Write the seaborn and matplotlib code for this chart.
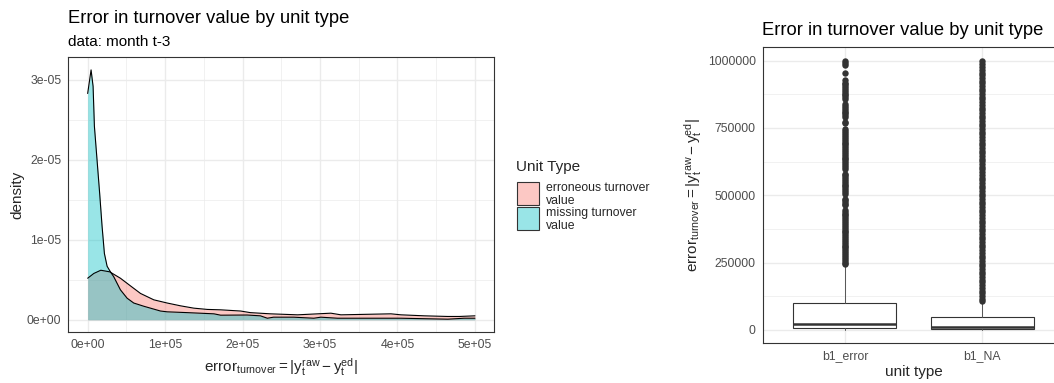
import matplotlib
matplotlib.use("Agg")
import matplotlib.pyplot as plt
from matplotlib.patches import Rectangle
import pandas as pd
import seaborn as sns

# ---------------------------------------------------------------------------
# data
# ---------------------------------------------------------------------------

# density curves: x in thousands, density in units of 1e-05
missing_x = [0, 4.4, 7, 8.7, 12.1, 15.5, 18.6, 21.6, 25.1, 29.4, 33.6, 42.3, 51, 59.5,
             72.4, 94, 102.7, 128.6, 163, 171.7, 206, 223, 232, 240, 266, 292, 301,
             322.6, 404.5, 465, 486, 500]
missing_d = [2.83, 3.125, 2.92, 2.42, 2.0, 1.58, 1.17, 0.83, 0.67, 0.60, 0.54, 0.375, 0.27, 0.21,
             0.17, 0.11, 0.10, 0.09, 0.075, 0.058, 0.06, 0.05, 0.02, 0.033, 0.033, 0.02, 0.033,
             0.02, 0.02, 0.008, 0.02, 0.02]

erroneous_x = [0, 8, 17, 28.5, 42.3, 55.2, 68.2, 85.4, 102.7, 119.9, 137, 154.5, 171.7,
               197.5, 210, 236, 271, 314, 327, 391.6, 404.5, 434.7, 465, 480, 500]
erroneous_d = [0.52, 0.58, 0.62, 0.60, 0.52, 0.425, 0.33, 0.25, 0.21, 0.175, 0.146, 0.13, 0.125,
               0.11, 0.09, 0.075, 0.0625, 0.083, 0.0625, 0.075, 0.0625, 0.05, 0.042, 0.042, 0.05]

unit_labels = ["erroneous turnover\nvalue", "missing turnover\nvalue"]
unit_colors = ["#F8766D", "#00BFC4"]

dens_xticks = [0, 100000, 200000, 300000, 400000, 500000]
dens_xticklabels = ["0e+00", "1e+05", "2e+05", "3e+05", "4e+05", "5e+05"]
dens_yticks = [0, 1e-05, 2e-05, 3e-05]
dens_yticklabels = ["0e+00", "1e-05", "2e-05", "3e-05"]

# boxplot summary (values in thousands)
box_units = ["b1_error", "b1_NA"]
box_q1 = [5, 1.5]
box_med = [21, 10]
box_q3 = [101.5, 45.9]
box_whislo = [0, 0]
box_whishi = [243, 103]

error_outliers = [243, 250, 257, 264, 271, 278, 285, 292, 299, 306, 313, 320, 327, 334, 341,
                  348, 355, 362, 369, 376, 383, 390, 397, 404, 411, 418, 425, 432, 439, 444,
                  462, 468, 475, 482, 486, 505, 512, 519, 526, 533, 540, 547, 554, 561, 568,
                  575, 580, 598, 605, 612, 619, 626, 633, 640, 647, 654, 661, 668, 675, 682,
                  689, 696, 703, 710, 717, 724, 731, 738, 745, 767, 771, 790, 797, 804, 811,
                  818, 825, 832, 839, 857, 864, 871, 878, 885, 892, 899, 906, 913, 918, 928,
                  953, 985, 993, 1000]
na_outliers = [106, 116, 126, 136, 146, 156, 166, 176, 186, 196, 206, 216, 226, 236, 246,
               256, 266, 276, 286, 296, 306, 316, 326, 336, 346, 356, 366, 376, 386, 396,
               406, 416, 426, 436, 446, 456, 466, 476, 486, 496, 506, 516, 526, 536, 546,
               556, 566, 576, 586, 596, 606, 616, 626, 636, 646, 656, 666, 676, 686, 696,
               706, 716, 726, 736, 746, 756, 766, 776, 786, 796, 806, 816, 826, 836, 846,
               856, 866, 876, 886, 896, 906, 916, 926, 936, 946, 956, 966, 976, 986, 1000]

box_yticks = [0, 250000, 500000, 750000, 1000000]
box_yticklabels = ["0", "250000", "500000", "750000", "1000000"]

# ---------------------------------------------------------------------------
# style (ggplot theme_bw look)
# ---------------------------------------------------------------------------
sns.set_theme(style="white")
plt.rcParams["font.family"] = ["Liberation Sans", "DejaVu Sans"]
plt.rcParams["mathtext.fontset"] = "custom"
plt.rcParams["mathtext.rm"] = "Liberation Sans"
plt.rcParams["mathtext.it"] = "Liberation Sans:italic"
plt.rcParams["mathtext.bf"] = "Liberation Sans:bold"
plt.rcParams["mathtext.default"] = "regular"

W, H = 1054, 383
fig = plt.figure(figsize=(W / 100, H / 100), dpi=100)


def fx(x):
    return x / W


def fy(y):
    return 1 - y / H


def style_axes(ax):
    for s in ax.spines.values():
        s.set_color("#333333")
        s.set_linewidth(0.8)
    ax.tick_params(which="major", length=2.75, width=0.6, color="#333333",
                   labelcolor="#4D4D4D", labelsize=8.8, pad=2.2)
    ax.tick_params(which="minor", length=0)
    ax.grid(which="major", color="#EBEBEB", lw=1.0)
    ax.grid(which="minor", color="#EBEBEB", lw=0.5)
    ax.set_axisbelow(True)


math_label = r"$error_{turnover} = |y_t^{raw} - y_t^{ed}|$"

# ---------------------------------------------------------------------------
# left panel: density
# ---------------------------------------------------------------------------
ax1 = fig.add_axes([fx(68.3), fy(332.3), fx(494.3 - 68.3), (332.3 - 56.7) / H])
curves = [(erroneous_x, erroneous_d), (missing_x, missing_d)]
for (cx, cd), col in zip(curves, unit_colors):
    xs = [v * 1000 for v in cx]
    ds = [v * 1e-05 for v in cd]
    ax1.fill_between(xs, 0, ds, color=col, alpha=0.4, lw=0)
    sns.lineplot(x=xs, y=ds, ax=ax1, color="black", lw=0.8, sort=False)

ax1.set_xlim(-25000, 525000)
ax1.set_ylim(-0.156e-05, 3.29e-05)
ax1.set_xticks(dens_xticks)
ax1.set_xticklabels(dens_xticklabels)
ax1.set_yticks(dens_yticks)
ax1.set_yticklabels(dens_yticklabels)
ax1.set_xticks([50000, 150000, 250000, 350000, 450000], minor=True)
ax1.set_yticks([0.5e-05, 1.5e-05, 2.5e-05], minor=True)
ax1.set_xlabel("")
ax1.set_ylabel("")
style_axes(ax1)

fig.text(fx(68.3), fy(18.3), "Error in turnover value by unit type", fontsize=13.2,
         ha="left", va="center", color="black")
fig.text(fx(68.3), fy(42.3), "data: month t-3", fontsize=11, ha="left", va="center",
         color="black")
fig.text(fx(17), fy(194.5), "density", fontsize=11, rotation=90, ha="center", va="center")
fig.text(fx(281.3), fy(371.5), math_label, fontsize=11, ha="center", va="baseline")

# legend drawn by hand to match ggplot's guide
fig.text(fx(516), fy(166.7), "Unit Type", fontsize=11, ha="left", va="center")
key_tops = [181.7, 206.7]
for top, col, lab in zip(key_tops, unit_colors, unit_labels):
    fig.add_artist(Rectangle((fx(516.5), fy(top + 23)), fx(22.5), 23 / H,
                             transform=fig.transFigure, facecolor=col, alpha=0.4,
                             edgecolor="none"))
    fig.add_artist(Rectangle((fx(516.5), fy(top + 23)), fx(22.5), 23 / H,
                             transform=fig.transFigure, facecolor="none",
                             edgecolor="#333333", lw=0.8))
    fig.text(fx(545.7), fy(top + 12.5), lab, fontsize=8.8, ha="left", va="center",
             linespacing=1.1)

# ---------------------------------------------------------------------------
# right panel: boxplot
# ---------------------------------------------------------------------------
ax2 = fig.add_axes([fx(762.6), fy(343.3), fx(1064.7 - 762.6), (343.3 - 46.7) / H])

outlier_df = pd.DataFrame({
    "unit": [box_units[0]] * len(error_outliers) + [box_units[1]] * len(na_outliers),
    "value": [v * 1000 for v in error_outliers + na_outliers],
})
sns.stripplot(data=outlier_df, x="unit", y="value", order=box_units, jitter=False,
              color="#333333", size=4.6, linewidth=0, ax=ax2, zorder=3)

stats = []
for i, name in enumerate(box_units):
    stats.append({
        "label": name,
        "q1": box_q1[i] * 1000,
        "med": box_med[i] * 1000,
        "q3": box_q3[i] * 1000,
        "whislo": box_whislo[i] * 1000,
        "whishi": box_whishi[i] * 1000,
        "fliers": [],
    })
ax2.bxp(stats, positions=[0, 1], widths=0.75, showcaps=False, showfliers=False,
        patch_artist=True,
        boxprops=dict(facecolor="white", edgecolor="#333333", lw=0.8),
        medianprops=dict(color="#333333", lw=1.8),
        whiskerprops=dict(color="#555555", lw=0.7),
        manage_ticks=False, zorder=2)

ax2.set_xlim(-0.6, 1.6)
ax2.set_ylim(-50000, 1052000)
ax2.set_xticks([0, 1])
ax2.set_xticklabels(box_units)
ax2.set_yticks(box_yticks)
ax2.set_yticklabels(box_yticklabels)
ax2.set_yticks([125000, 375000, 625000, 875000], minor=True)
ax2.set_xlabel("")
ax2.set_ylabel("")
style_axes(ax2)

fig.text(fx(762.3), fy(30.7), "Error in turnover value by unit type", fontsize=13.2,
         ha="left", va="center", color="black")
fig.text(fx(913.6), fy(372.3), "unit type", fontsize=11, ha="center", va="center")
fig.text(fx(693), fy(195), math_label, fontsize=11, rotation=90, ha="center", va="center")

fig.savefig("out.png", dpi=100)
